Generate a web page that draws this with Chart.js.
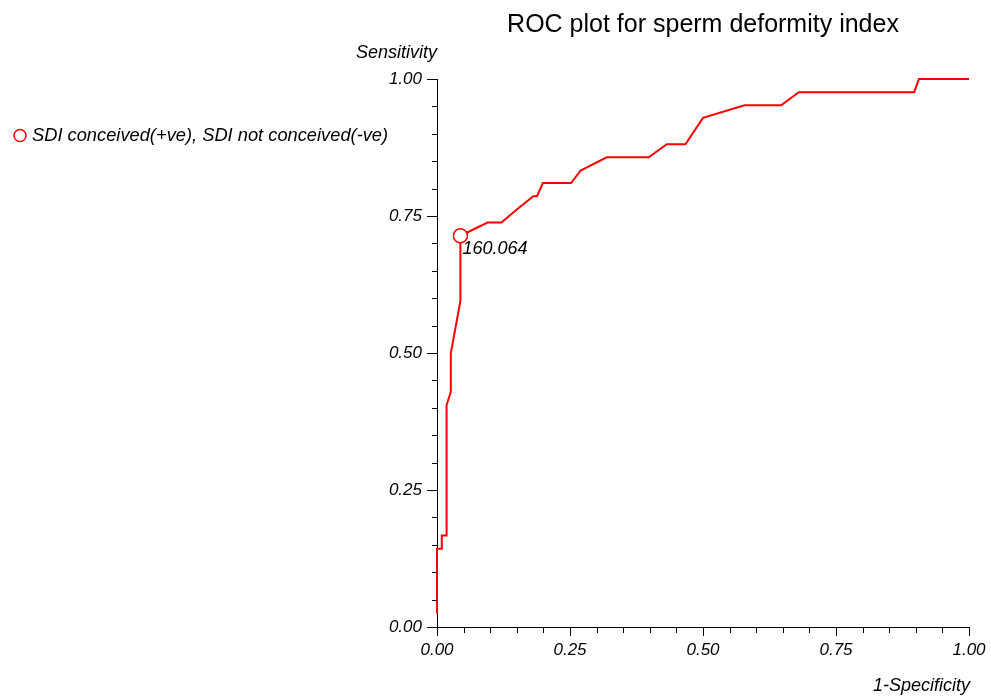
<!DOCTYPE html>
<html lang="en">
<head>
    <meta charset="UTF-8">
    <title>ROC plot for sperm deformity index</title>
    <style>
        body { margin: 0; background: #ffffff; }
        #wrap { width: 991px; height: 697px; }
    </style>
</head>
<body>
    <div id="wrap"><canvas id="rocChart"></canvas></div>

    <script src="https://cdn.jsdelivr.net/npm/chart.js"></script>
    <script>
        // ROC curve
        const fpr = [0, 0, 0.009, 0.009, 0.018, 0.018, 0.026, 0.026, 0.044, 0.044,
                     0.095, 0.121, 0.150, 0.181, 0.188, 0.199, 0.252, 0.270, 0.319, 0.398,
                     0.432, 0.467, 0.500, 0.578, 0.647, 0.680, 0.897, 0.906, 1.000];
        const tpr = [0.024, 0.143, 0.143, 0.167, 0.167, 0.405, 0.429, 0.500, 0.595, 0.714,
                     0.738, 0.738, 0.762, 0.786, 0.786, 0.810, 0.810, 0.833, 0.857, 0.857,
                     0.881, 0.881, 0.929, 0.952, 0.952, 0.976, 0.976, 1.000, 1.000];
        // chosen cut-off point
        const cutoffFpr = [0.044];
        const cutoffTpr = [0.714];
        const cutoffLabels = ['160.064'];
        const axisTicks = [0, 0.25, 0.5, 0.75, 1];
        const minorStep = 0.05;

        const seriesLabel = 'SDI conceived(+ve), SDI not conceived(-ve)';
        const titleText = 'ROC plot for sperm deformity index';
        const xTitle = '1-Specificity';
        const yTitle = 'Sensitivity';

        const RED = '#ff0000';
        const FONT = 'Arial, "Liberation Sans", sans-serif';

        const fmt = v => axisTicks.some(t => Math.abs(t - v) < 1e-6) ? v.toFixed(2) : '';

        // texts, tick marks, legend and cut-off label
        const decorPlugin = {
            id: 'decor',
            afterDraw(chart) {
                const c = chart.ctx;
                const xs = chart.scales.x, ys = chart.scales.y;
                const area = chart.chartArea;
                c.save();

                // tick marks
                c.strokeStyle = '#000';
                c.lineWidth = 1;
                c.beginPath();
                for (let i = 0; i <= Math.round(1 / minorStep); i++) {
                    const v = i * minorStep;
                    const major = fmt(v) !== '';
                    const py = Math.round(ys.getPixelForValue(v)) + 0.5;
                    c.moveTo(area.left - (major ? 10 : 5), py);
                    c.lineTo(area.left, py);
                    const px = Math.round(xs.getPixelForValue(v)) + 0.5;
                    c.moveTo(px, area.bottom);
                    c.lineTo(px, area.bottom + (major ? 9 : 6));
                }
                c.stroke();

                // title
                c.fillStyle = '#000';
                c.font = '25px ' + FONT;
                c.textAlign = 'center';
                c.textBaseline = 'alphabetic';
                c.fillText(titleText, (area.left + area.right) / 2, 32);

                // axis titles
                c.font = 'italic 18px ' + FONT;
                c.textAlign = 'right';
                c.textBaseline = 'middle';
                c.fillText(yTitle, area.left, 53);
                c.fillText(xTitle, area.right + 1, 686);

                // legend
                c.beginPath();
                c.arc(20, 135.5, 6, 0, Math.PI * 2);
                c.fillStyle = '#fff';
                c.fill();
                c.strokeStyle = RED;
                c.lineWidth = 1.5;
                c.stroke();
                c.fillStyle = '#000';
                c.textAlign = 'left';
                c.font = 'italic 18.3px ' + FONT;
                c.fillText(seriesLabel, 32, 136);

                // cut-off label
                c.font = 'italic 18px ' + FONT;
                cutoffLabels.forEach((t, i) => {
                    const px = xs.getPixelForValue(cutoffFpr[i]);
                    const py = ys.getPixelForValue(cutoffTpr[i]);
                    c.fillText(t, px + 2, py + 13);
                });
                c.restore();
            }
        };

        const axisBase = {
            type: 'linear',
            min: 0,
            max: 1,
            grid: { display: false, drawTicks: false, tickLength: 0 },
            border: { display: true, color: '#000', width: 1 },
            ticks: {
                stepSize: 0.25,
                color: '#000',
                font: { family: FONT, size: 17, style: 'italic' },
                callback: v => fmt(v)
            }
        };

        new Chart(document.getElementById('rocChart'), {
            type: 'scatter',
            data: {
                datasets: [{
                    label: seriesLabel,
                    data: fpr.map((x, i) => ({ x: x, y: tpr[i] })),
                    showLine: true,
                    borderColor: RED,
                    borderWidth: 2,
                    pointRadius: 0,
                    fill: false,
                    clip: false,
                    order: 2
                }, {
                    label: 'cut-off',
                    data: cutoffFpr.map((x, i) => ({ x: x, y: cutoffTpr[i] })),
                    showLine: false,
                    pointRadius: 7,
                    pointBackgroundColor: '#ffffff',
                    pointBorderColor: RED,
                    pointBorderWidth: 1.5,
                    clip: false,
                    order: 1
                }]
            },
            options: {
                responsive: true,
                maintainAspectRatio: false,
                animation: false,
                layout: { padding: { top: 79, right: 22, left: 0, bottom: 0 } },
                plugins: {
                    legend: { display: false },
                    title: { display: false },
                    tooltip: { enabled: false }
                },
                scales: {
                    x: Object.assign({}, axisBase, {
                        position: 'bottom',
                        ticks: Object.assign({}, axisBase.ticks, { padding: 13, maxRotation: 0 }),
                        afterFit: s => { s.height = 70; s.paddingLeft = 0; s.paddingRight = 0; }
                    }),
                    y: Object.assign({}, axisBase, {
                        position: 'left',
                        ticks: Object.assign({}, axisBase.ticks, { padding: 15 }),
                        afterFit: s => { s.width = 437; s.paddingTop = 0; s.paddingBottom = 0; }
                    })
                }
            },
            plugins: [decorPlugin]
        });
    </script>
</body>
</html>
